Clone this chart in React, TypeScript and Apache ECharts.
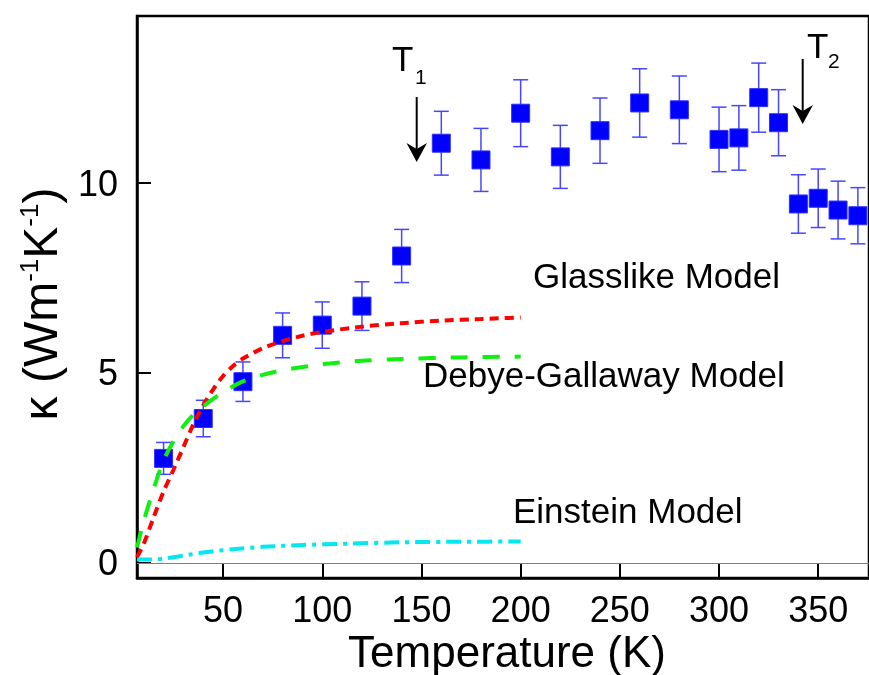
import React, { useEffect, useRef } from 'react';
import * as echarts from 'echarts';

// Measured thermal conductivity
const temps = [20, 40, 60, 80, 100, 120, 140, 160, 180, 200, 220, 240, 260, 280, 300, 310, 320, 330, 340, 350, 360, 370];
const kappa = [2.75, 3.8, 4.77, 5.99, 6.26, 6.76, 8.08, 11.05, 10.61, 11.84, 10.69, 11.38, 12.11, 11.93, 11.15, 11.19, 12.25, 11.59, 9.45, 9.6, 9.29, 9.14];
const kappaErr = [0.42, 0.48, 0.52, 0.59, 0.61, 0.64, 0.7, 0.84, 0.83, 0.88, 0.83, 0.86, 0.9, 0.89, 0.85, 0.85, 0.91, 0.87, 0.77, 0.77, 0.76, 0.74];

// Model curves
const glassT = [6.6, 10, 15, 20, 25, 30, 35, 40, 45, 50, 55, 60, 70, 80, 90, 100, 120, 140, 160, 180, 200];
const glassK = [0.15, 0.5, 1.2, 1.88, 2.45, 3.05, 3.65, 4.15, 4.57, 4.92, 5.18, 5.38, 5.65, 5.84, 5.98, 6.08, 6.22, 6.31, 6.38, 6.42, 6.46];
const debyeT = [6.6, 10, 15, 20, 25, 30, 35, 40, 45, 50, 60, 70, 80, 100, 120, 140, 170, 200];
const debyeK = [0.4, 1.1, 1.95, 2.7, 3.2, 3.6, 3.9, 4.12, 4.32, 4.5, 4.78, 4.95, 5.07, 5.23, 5.32, 5.37, 5.41, 5.43];
const einsteinT = [6.6, 14, 20, 30, 40, 55, 70, 90, 110, 140, 170, 200];
const einsteinK = [0.09, 0.09, 0.11, 0.19, 0.27, 0.36, 0.42, 0.47, 0.5, 0.54, 0.555, 0.56];

const xTicks = [50, 100, 150, 200, 250, 300, 350];
const yTicks = [0, 5, 10];

const FONT = 'Liberation Sans, Arial, sans-serif';

const zip = (a: number[], b: number[]) => a.map((v, i) => [v, b[i]]);

export default function App() {
  const ref = useRef<HTMLDivElement>(null);
  useEffect(() => {
    if (!ref.current) return;
    const chart = echarts.init(ref.current, undefined, { renderer: 'svg' });
    const errData = temps.map((t, i) => [t, kappa[i] - kappaErr[i], kappa[i] + kappaErr[i]]);
    const textStyle = (size: number) => ({ fill: '#000', fontSize: size, fontFamily: FONT });
    const txt = (x: number, y: number, text: string, size: number, align = 'left') => ({
      type: 'text', x, y,
      style: { text, ...textStyle(size), align, verticalAlign: 'middle', textAlign: align, textVerticalAlign: 'middle' },
    });
    chart.setOption({
      animation: false,
      textStyle: { fontFamily: FONT },
      grid: { left: 137, right: -2, top: 16, bottom: 97, show: true, borderColor: '#000', borderWidth: 2.5 },
      xAxis: {
        type: 'value', min: 6.6, max: 375.6,
        axisLine: { show: true, onZero: false, lineStyle: { color: '#000', width: 2.5 } },
        axisTick: { show: true, inside: true, length: 15, customValues: xTicks, lineStyle: { color: '#000', width: 2 } },
        axisLabel: { show: true, customValues: xTicks, fontSize: 36, lineHeight: 32, color: '#000', margin: 31, verticalAlign: 'middle', fontFamily: FONT },
        splitLine: { show: false },
      },
      yAxis: {
        type: 'value', min: -0.4, max: 14.4,
        axisLine: { show: true, onZero: false, lineStyle: { color: '#000', width: 2.5 } },
        axisTick: { show: true, inside: true, length: 14, customValues: yTicks, lineStyle: { color: '#000', width: 2 } },
        axisLabel: { show: true, customValues: yTicks, fontSize: 36, color: '#000', margin: 19, fontFamily: FONT },
        splitLine: { show: false },
      },
      series: [
        {
          type: 'custom', z: 2,
          data: errData,
          encode: { x: 0, y: [1, 2] },
          renderItem: (params: any, api: any) => {
            const x = api.value(0);
            const top = api.coord([x, api.value(2)]);
            const bot = api.coord([x, api.value(1)]);
            const hw = 7.5;
            const st = { stroke: '#4646ff', lineWidth: 1.5 };
            return {
              type: 'group',
              children: [
                { type: 'line', shape: { x1: top[0], y1: top[1], x2: bot[0], y2: bot[1] }, style: st },
                { type: 'line', shape: { x1: top[0] - hw, y1: top[1], x2: top[0] + hw, y2: top[1] }, style: st },
                { type: 'line', shape: { x1: bot[0] - hw, y1: bot[1], x2: bot[0] + hw, y2: bot[1] }, style: st },
              ],
            };
          },
        },
        {
          type: 'scatter', z: 3,
          data: zip(temps, kappa),
          symbol: 'rect', symbolSize: 18,
          itemStyle: { color: '#0000ff', borderColor: '#3030ff', borderWidth: 1, opacity: 1 },
          markLine: {
            silent: true, symbol: ['none', 'none'], label: { show: false },
            lineStyle: { color: '#808080', width: 1, type: 'solid' },
            data: [{ yAxis: 0 }],
          },
        },
        {
          type: 'line', z: 4, data: zip(glassT, glassK), showSymbol: false, smooth: 0.25,
          lineStyle: { color: '#ff0000', width: 4, type: [9, 6] },
        },
        {
          type: 'line', z: 4, data: zip(debyeT, debyeK), showSymbol: false, smooth: 0.25,
          lineStyle: { color: '#11ee11', width: 4, type: [17, 15] },
        },
        {
          type: 'line', z: 4, data: zip(einsteinT, einsteinK), showSymbol: false, smooth: 0.25,
          lineStyle: { color: '#00e8f0', width: 4, type: [15, 6, 4, 6] },
        },
      ],
      graphic: [
        {
          type: 'text', x: 40, y: 304, rotation: Math.PI / 2,
          style: {
            text: 'κ (Wm{s|-1}K{s|-1})', fill: '#000', fontSize: 48, fontFamily: FONT,
            align: 'center', verticalAlign: 'middle', textAlign: 'center', textVerticalAlign: 'middle',
            rich: { s: { fontSize: 26, fontFamily: FONT, fill: '#000', verticalAlign: 'top', lineHeight: 48 } },
          },
        },
        txt(507, 651, 'Temperature (K)', 44, 'center'),
        txt(533, 275, 'Glasslike Model', 35),
        txt(423, 374, 'Debye-Gallaway Model', 35),
        txt(513, 510, 'Einstein Model', 35),
        txt(392, 58, 'T', 35),
        txt(415, 76, '1', 21),
        txt(807, 45, 'T', 35),
        txt(828, 60, '2', 21),
        { type: 'line', shape: { x1: 416.7, y1: 97, x2: 416.7, y2: 150 }, style: { stroke: '#000', lineWidth: 2 } },
        { type: 'polygon', shape: { points: [[416.7, 162], [406.5, 143], [416.7, 149], [427, 143]] }, style: { fill: '#000' } },
        { type: 'line', shape: { x1: 802.7, y1: 59, x2: 802.7, y2: 112 }, style: { stroke: '#000', lineWidth: 2 } },
        { type: 'polygon', shape: { points: [[802.7, 124], [792.5, 105], [802.7, 111], [813, 105]] }, style: { fill: '#000' } },
      ],
    });
    return () => chart.dispose();
  }, []);
  return <div ref={ref} style={{ position: 'fixed', left: 0, top: 0, width: 869, height: 675 }} />;
}
